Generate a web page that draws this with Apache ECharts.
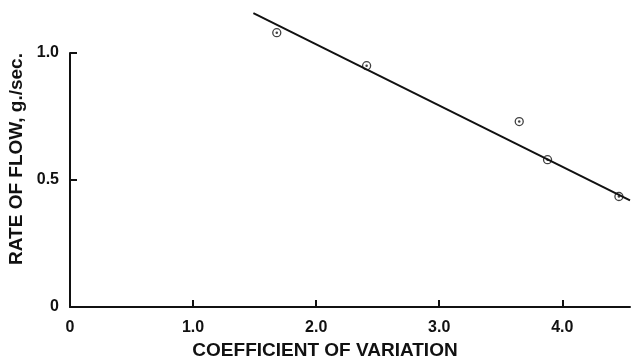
<!DOCTYPE html>
<html>
<head>
<meta charset="utf-8">
<script src="https://cdn.jsdelivr.net/npm/echarts@6/dist/echarts.min.js"></script>
<style>
  html, body { margin: 0; padding: 0; background: #fff; }
  #chart { width: 632px; height: 356px; }
</style>
</head>
<body>
<div id="chart"></div>
<script>
// measured points (coefficient of variation, rate of flow g/sec)
const cvValues = [1.68, 2.41, 3.65, 3.88, 4.46];
const flowValues = [1.08, 0.95, 0.73, 0.58, 0.435];
// fitted straight line end points
const fitX = [1.49, 4.55];
const fitY = [1.157, 0.42];

const points = cvValues.map((x, i) => [x, flowValues[i]]);
const fitLine = fitX.map((x, i) => [x, fitY[i]]);

const chart = echarts.init(document.getElementById("chart"));
const font = "Liberation Sans";

chart.setOption({
  animation: false,
  grid: { left: 70, right: 2, top: 53, bottom: 49, outerBoundsMode: "none", containLabel: false },
  xAxis: {
    type: "value",
    min: 0,
    max: 4.55,
    interval: 1,
    name: "COEFFICIENT OF VARIATION",
    nameLocation: "middle",
    nameGap: 30,
    nameTextStyle: {
      fontFamily: font, fontWeight: "bold", fontSize: 19, color: "#111",
      padding: [0, 50, 0, 0],
    },
    axisLine: { lineStyle: { color: "#111", width: 2 } },
    axisTick: { inside: true, length: 7, lineStyle: { color: "#111", width: 2 } },
    axisLabel: {
      margin: 13,
      fontFamily: font, fontWeight: "bold", fontSize: 16, color: "#111",
      formatter: (v) => (v === 0 ? "0" : v.toFixed(1)),
      showMaxLabel: false,
    },
    splitLine: { show: false },
  },
  yAxis: {
    type: "value",
    min: 0,
    max: 1,
    interval: 0.5,
    name: "RATE OF FLOW, g./sec.",
    nameLocation: "middle",
    nameGap: 39,
    nameRotate: 90,
    nameTextStyle: {
      fontFamily: font, fontWeight: "bold", fontSize: 19, color: "#111",
      padding: [0, 0, 0, 42],
    },
    axisLine: { show: true, lineStyle: { color: "#111", width: 2 } },
    axisTick: { show: true, inside: true, length: 7, lineStyle: { color: "#111", width: 2 } },
    axisLabel: {
      margin: 11,
      fontFamily: font, fontWeight: "bold", fontSize: 16, color: "#111",
      formatter: (v) => (v === 0 ? "0" : v.toFixed(1)),
    },
    splitLine: { show: false },
  },
  series: [
    {
      type: "line",
      data: fitLine,
      clip: false,
      symbol: "none",
      lineStyle: { color: "#111", width: 2 },
    },
    {
      type: "scatter",
      data: points,
      clip: false,
      symbol: "circle",
      symbolSize: 8,
      itemStyle: { color: "#fff", borderColor: "#111", borderWidth: 1.3 },
    },
    {
      type: "scatter",
      data: points,
      clip: false,
      symbol: "circle",
      symbolSize: 2.5,
      itemStyle: { color: "#111" },
    },
  ],
});
</script>
</body>
</html>
